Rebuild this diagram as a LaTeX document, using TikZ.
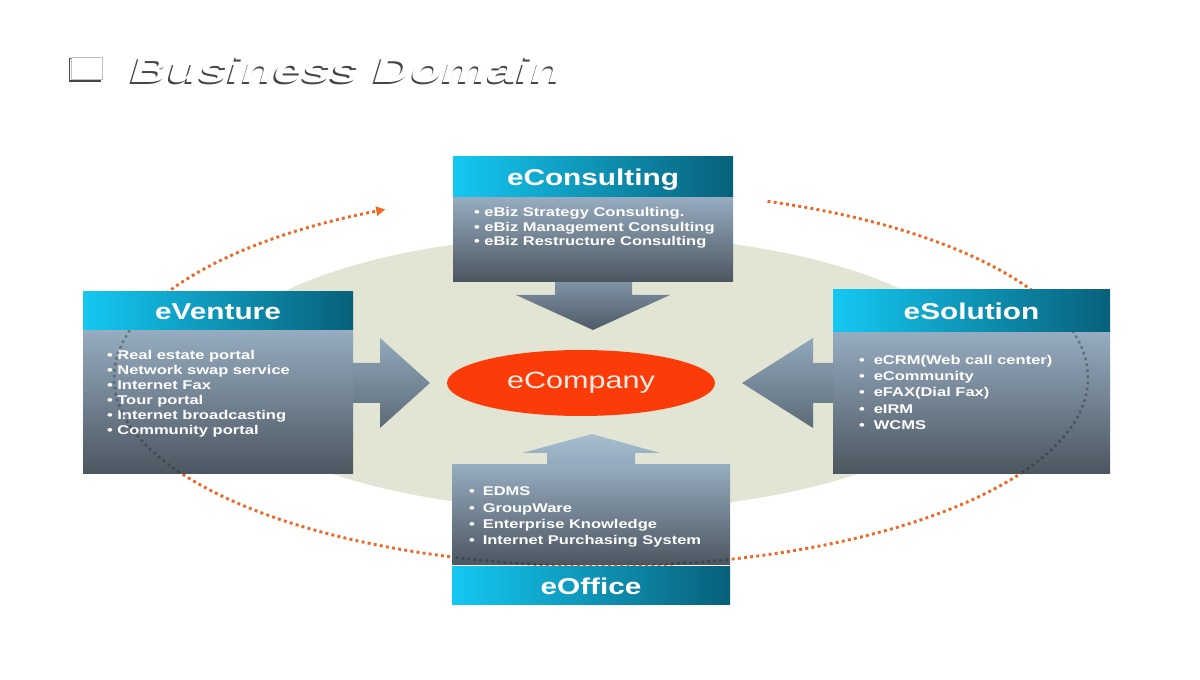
\documentclass[tikz,border=0pt]{standalone}
\usepackage{fontspec}
\setmainfont{Liberation Sans}[FakeStretch=1.3]
\newfontfamily\titlefont{Liberation Sans}[FakeStretch=1.43,FakeSlant=0.3]
\usetikzlibrary{arrows.meta,positioning,calc,shapes.geometric}

\definecolor{hdlight}{RGB}{20,200,242}
\definecolor{hddark}{RGB}{8,96,122}
\definecolor{bdtop}{RGB}{150,172,192}
\definecolor{bdbot}{RGB}{76,86,96}
\definecolor{ground}{RGB}{226,229,212}
\definecolor{loop}{RGB}{240,102,34}
\definecolor{core}{RGB}{252,60,8}
\definecolor{shadowgray}{RGB}{70,70,70}

\begin{document}
\begin{tikzpicture}[
  x=1pt, y=1pt,
  head/.style={rectangle, inner sep=0pt, text height=16.5pt, text depth=0pt, left color=hdlight, middle color=hdlight!88!hddark, right color=hddark, text=white, font=\fontsize{22.9}{26}\selectfont\bfseries},
  body/.style={rectangle, inner sep=0pt, top color=bdtop, bottom color=bdbot},
  items/.style={anchor=north west, inner sep=0pt, align=left, text=white, font=\fontsize{12.7}{15}\selectfont\bfseries},
  loopline/.style={draw=loop, line width=2.9pt, dash pattern=on 2.9pt off 3.3pt, -{Triangle[length=9pt,width=9pt]}},
  hidden/.style={draw=black!55!bdbot, opacity=0.4, line width=2.5pt, dash pattern=on 2.6pt off 3.4pt},
  titletext/.style={anchor=west, inner sep=0pt, font=\titlefont\fontsize{36}{40}\selectfont\bfseries}
]
\useasboundingbox (0,0) rectangle (1200,680);
\fill[white] (0,0) rectangle (1200,680);

% title
\draw[shadowgray, line width=1.4pt] (69.5,599) rectangle (100.5,621.5);
\draw[black!25, fill=white, line width=0.6pt] (71,600.5) rectangle (102,623);
\node[titletext, text=shadowgray] (titleshadow) at (126.5,608.5) {Business Domain};
\node[titletext, text=white] (title) at (128,610) {Business Domain};

% ground and loop
\fill[ground] (595,307) ellipse [x radius=385, y radius=138];
\draw[loopline] (601,302) ++(70:487 and 188) arc[start angle=70, end angle=-243.7, x radius=487, y radius=188];

% block arrows
\shade[top color={rgb,255:red,128;green,148;blue,166}, bottom color={rgb,255:red,78;green,90;blue,102}]
  (555,399) -- (555,385) -- (516,385) -- (593,350) -- (670,385) -- (632,385) -- (632,399) -- cycle;
\shade[top color={rgb,255:red,145;green,168;blue,188}, bottom color={rgb,255:red,92;green,106;blue,118}]
  (353,317) -- (380,317) -- (380,342) -- (430,297) -- (380,252) -- (380,277) -- (353,277) -- cycle;
\shade[top color={rgb,255:red,145;green,168;blue,188}, bottom color={rgb,255:red,92;green,106;blue,118}]
  (833,317) -- (813,317) -- (813,342) -- (742,297) -- (813,252) -- (813,277) -- (833,277) -- cycle;
\shade[top color={rgb,255:red,168;green,190;blue,208}, bottom color={rgb,255:red,145;green,168;blue,188}]
  (547,215) -- (547,227) -- (522,227) -- (592,246) -- (660,227) -- (635,227) -- (635,215) -- cycle;

% eConsulting
\node[head, minimum width=280pt, minimum height=40pt] (chead) at (593,503) {eConsulting};
\node[body, minimum width=280pt, minimum height=84pt, below=0pt of chead] (cbody) {};
\node[items, font=\fontsize{12.7}{14.5}\selectfont\bfseries] (clist) at ([shift={(21,-10)}]cbody.north west)
  {\textbullet\ eBiz Strategy Consulting.\\ \textbullet\ eBiz Management Consulting\\ \textbullet\ eBiz Restructure Consulting};

% eVenture
\node[head, minimum width=270pt, minimum height=38pt] (vhead) at (218,369) {eVenture};
\node[body, minimum width=270pt, minimum height=143pt, below=0pt of vhead] (vbody) {};
\node[items] (vlist) at ([shift={(24,-20)}]vbody.north west)
  {\textbullet\ Real estate portal\\ \textbullet\ Network swap service\\ \textbullet\ Internet Fax\\
   \textbullet\ Tour portal\\ \textbullet\ Internet broadcasting\\ \textbullet\ Community portal};

% eSolution
\node[head, minimum width=277pt, minimum height=42pt] (shead) at (971.5,369) {eSolution};
\node[body, minimum width=277pt, minimum height=141pt, below=0pt of shead] (sbody) {};
\node[items, font=\fontsize{12.7}{16.2}\selectfont\bfseries] (slist) at ([shift={(26,-23)}]sbody.north west)
  {\textbullet\hspace{9pt}eCRM(Web call center)\\ \textbullet\hspace{9pt}eCommunity\\ \textbullet\hspace{9pt}eFAX(Dial Fax)\\
   \textbullet\hspace{9pt}eIRM\\ \textbullet\hspace{9pt}WCMS};

% eOffice
\node[body, minimum width=278pt, minimum height=100pt] (obody) at (591,165) {};
\node[head, minimum width=278pt, minimum height=38pt, below=1.5pt of obody] (ohead) {eOffice};
\node[items, font=\fontsize{12.7}{16.3}\selectfont\bfseries] (olist) at ([shift={(17,-22)}]obody.north west)
  {\textbullet\hspace{8pt}EDMS\\ \textbullet\hspace{8pt}GroupWare\\ \textbullet\hspace{8pt}Enterprise Knowledge\\
   \textbullet\hspace{8pt}Internet Purchasing System};

% loop seen through the boxes
\begin{scope}
  \clip (vbody.south west) rectangle (vbody.north east)
        (sbody.south west) rectangle (sbody.north east)
        (obody.south west) rectangle (obody.north east);
  \draw[hidden] (601,302) ellipse [x radius=487, y radius=188];
\end{scope}

% center
\node[ellipse, fill=core, minimum width=268pt, minimum height=66pt, inner sep=0pt, text=white!90!core,
  font=\fontsize{23.5}{26}\selectfont] (company) at (581,297) {eCompany};
\end{tikzpicture}
\end{document}
